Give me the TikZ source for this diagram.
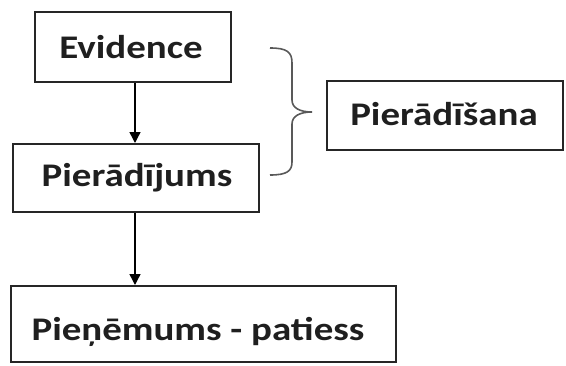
\documentclass[tikz,border=0pt]{standalone}
\usepackage{fontspec}
\setmainfont{Carlito}[FakeStretch=1.18]
\usetikzlibrary{arrows.meta}
\tikzset{
  boxnode/.style={draw=black!85, line width=2pt, inner sep=0pt},
  lbl/.style={font=\bfseries\fontsize{33}{38}\selectfont, text=black!88, inner sep=0pt},
  flow/.style={line width=1.4pt, -{Triangle[length=11pt,width=11pt]}},
  bracestyle/.style={draw=black!65, line width=1.6pt}
}
\begin{document}
\begin{tikzpicture}[x=1pt,y=-1pt]
\useasboundingbox (0,0) rectangle (566,365);
% boxes
\node[boxnode, minimum width=196pt, minimum height=70pt] (ev) at (133,47) {};
\node[lbl] (evt) at (131,47) {Evidence};
\node[boxnode, minimum width=246pt, minimum height=68pt] (pj) at (136,178) {};
\node[lbl] (pjt) at (137,178) {Pierādījums};
\node[boxnode, minimum width=385pt, minimum height=76pt] (pp) at (203.5,324) {};
\node[lbl] (ppt) at (198,332) {Pieņēmums - patiess};
\node[boxnode, minimum width=236pt, minimum height=69pt] (ps) at (445,115.5) {};
\node[lbl] (pst) at (444,114) {Pierādīšana};
% arrows
\draw[flow] (ev.south -| 135,0) -- (pj.north -| 135,0);
\draw[flow] (pj.south -| 135,0) -- (pp.north -| 135,0);
% brace
\coordinate (bt) at (270,48);
\coordinate (tip) at (312,112);
\coordinate (bb) at (270,175);
\draw[bracestyle] (bt) .. controls (287,48) and (292,52) .. (292,63) -- (292,100)
  .. controls (292,108) and (300,112) .. (tip)
  .. controls (300,112) and (292,116) .. (292,124) -- (292,162)
  .. controls (292,171) and (287,175) .. (bb);
\end{tikzpicture}
\end{document}
